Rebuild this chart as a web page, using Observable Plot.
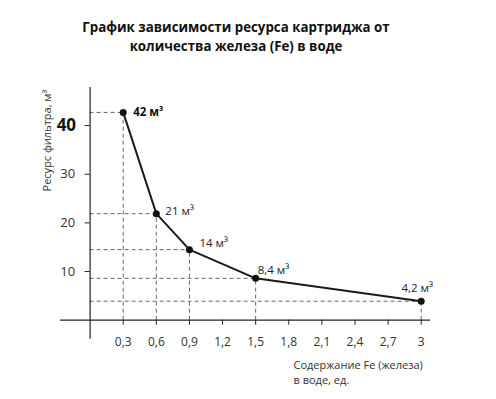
<!DOCTYPE html>
<html>
<head>
<meta charset="utf-8">
<script src="https://cdn.jsdelivr.net/npm/d3@7"></script>
<script src="https://cdn.jsdelivr.net/npm/@observablehq/plot@0.6"></script>
<style>
  html, body { margin: 0; padding: 0; background: #fff; }
  body { width: 496px; height: 399px; overflow: hidden; font-family: "Open Sans", sans-serif; }
  #title { width: 472px; height: 60px; box-sizing: border-box; padding-top: 18px; text-align: center;
           font-weight: 700; font-size: 13.3px; line-height: 19px; color: #111; }
  svg { display: block; }
</style>
</head>
<body>
<div id="title">График зависимости ресурса картриджа от<br>количества железа (Fe) в воде</div>
<div id="chart"></div>
<script>
const fe = [0.3, 0.6, 0.9, 1.5, 3];
const resource = [42.7, 21.9, 14.5, 8.6, 3.9];
const pointLabels = ["42 м³", "21 м³", "14 м³", "8,4 м³", "4,2 м³"];
const xTicks = [0.3, 0.6, 0.9, 1.2, 1.5, 1.8, 2.1, 2.4, 2.7, 3];
const yTicks = [10, 20, 30];
const yTickBold = [40];
const yLabel = "Ресурс фильтра, м³";
const xLabel = "Содержание Fe (железа)\nв воде, ед.";

const data = fe.map((x, i) => ({x, y: resource[i], label: pointLabels[i]}));
const fmt = d => String(d).replace(".", ",");
const dash = {stroke: "#666", strokeWidth: 1, strokeDasharray: "4,3"};
const labelStyle = {fontSize: 11.5, fill: "#222", text: "label", x: "x", y: "y"};

const chart = Plot.plot({
  width: 496,
  height: 339,
  marginLeft: 89.6,
  marginRight: 66,
  marginTop: 27.1,
  marginBottom: 79.3,
  style: {fontFamily: "Open Sans, sans-serif", color: "#333", background: "#fff"},
  x: {domain: [0, 3.084]},
  y: {domain: [0, 47.8]},
  marks: [
    Plot.ruleY(data, {y: "y", x1: 0, x2: "x", ...dash}),
    Plot.ruleX(data, {x: "x", y1: 0, y2: "y", ...dash}),
    Plot.ruleY([0], {x1: -0.268, x2: 3.084, stroke: "#222", strokeWidth: 1.2}),
    Plot.ruleX([0], {y1: -3.9, y2: 47.8, stroke: "#222", strokeWidth: 1.2}),
    Plot.axisX({ticks: xTicks, tickSize: 5, tickPadding: 12, tickFormat: fmt, fontSize: 12, label: null, stroke: "#222"}),
    Plot.axisY({ticks: yTicks, tickSize: 5, tickPadding: 10, fontSize: 13, label: null, stroke: "#222"}),
    Plot.axisY({ticks: yTickBold, tickSize: 5, tickPadding: 9, fontSize: 17, fontWeight: 700, fill: "#111", label: null, stroke: "#222"}),
    Plot.line(data, {x: "x", y: "y", stroke: "#1a1a1a", strokeWidth: 2}),
    Plot.dot(data, {x: "x", y: "y", r: 3.5, fill: "#111", stroke: "none"}),
    Plot.text(data.filter((d, i) => i === 0), {...labelStyle, fontWeight: 700, fill: "#111", textAnchor: "start", dx: 10, dy: 0}),
    Plot.text(data.filter((d, i) => i === 1), {...labelStyle, textAnchor: "start", dx: 9, dy: -2}),
    Plot.text(data.filter((d, i) => i === 2), {...labelStyle, textAnchor: "start", dx: 10, dy: -6}),
    Plot.text(data.filter((d, i) => i === 3), {...labelStyle, textAnchor: "start", dx: 2, dy: -8}),
    Plot.text(data.filter((d, i) => i === 4), {...labelStyle, textAnchor: "middle", dx: -4, dy: -13}),
    Plot.text([yLabel], {frameAnchor: "top-left", rotate: -90, textAnchor: "middle", dx: -46.6, dy: 53, fontSize: 11, fill: "#333"}),
    Plot.text([xLabel], {frameAnchor: "bottom-left", textAnchor: "start", lineAnchor: "top", lineHeight: 1.36, dx: 203.4, dy: 38.5, fontSize: 11, fill: "#333"})
  ]
});
document.getElementById("chart").appendChild(chart);
</script>
</body>
</html>
